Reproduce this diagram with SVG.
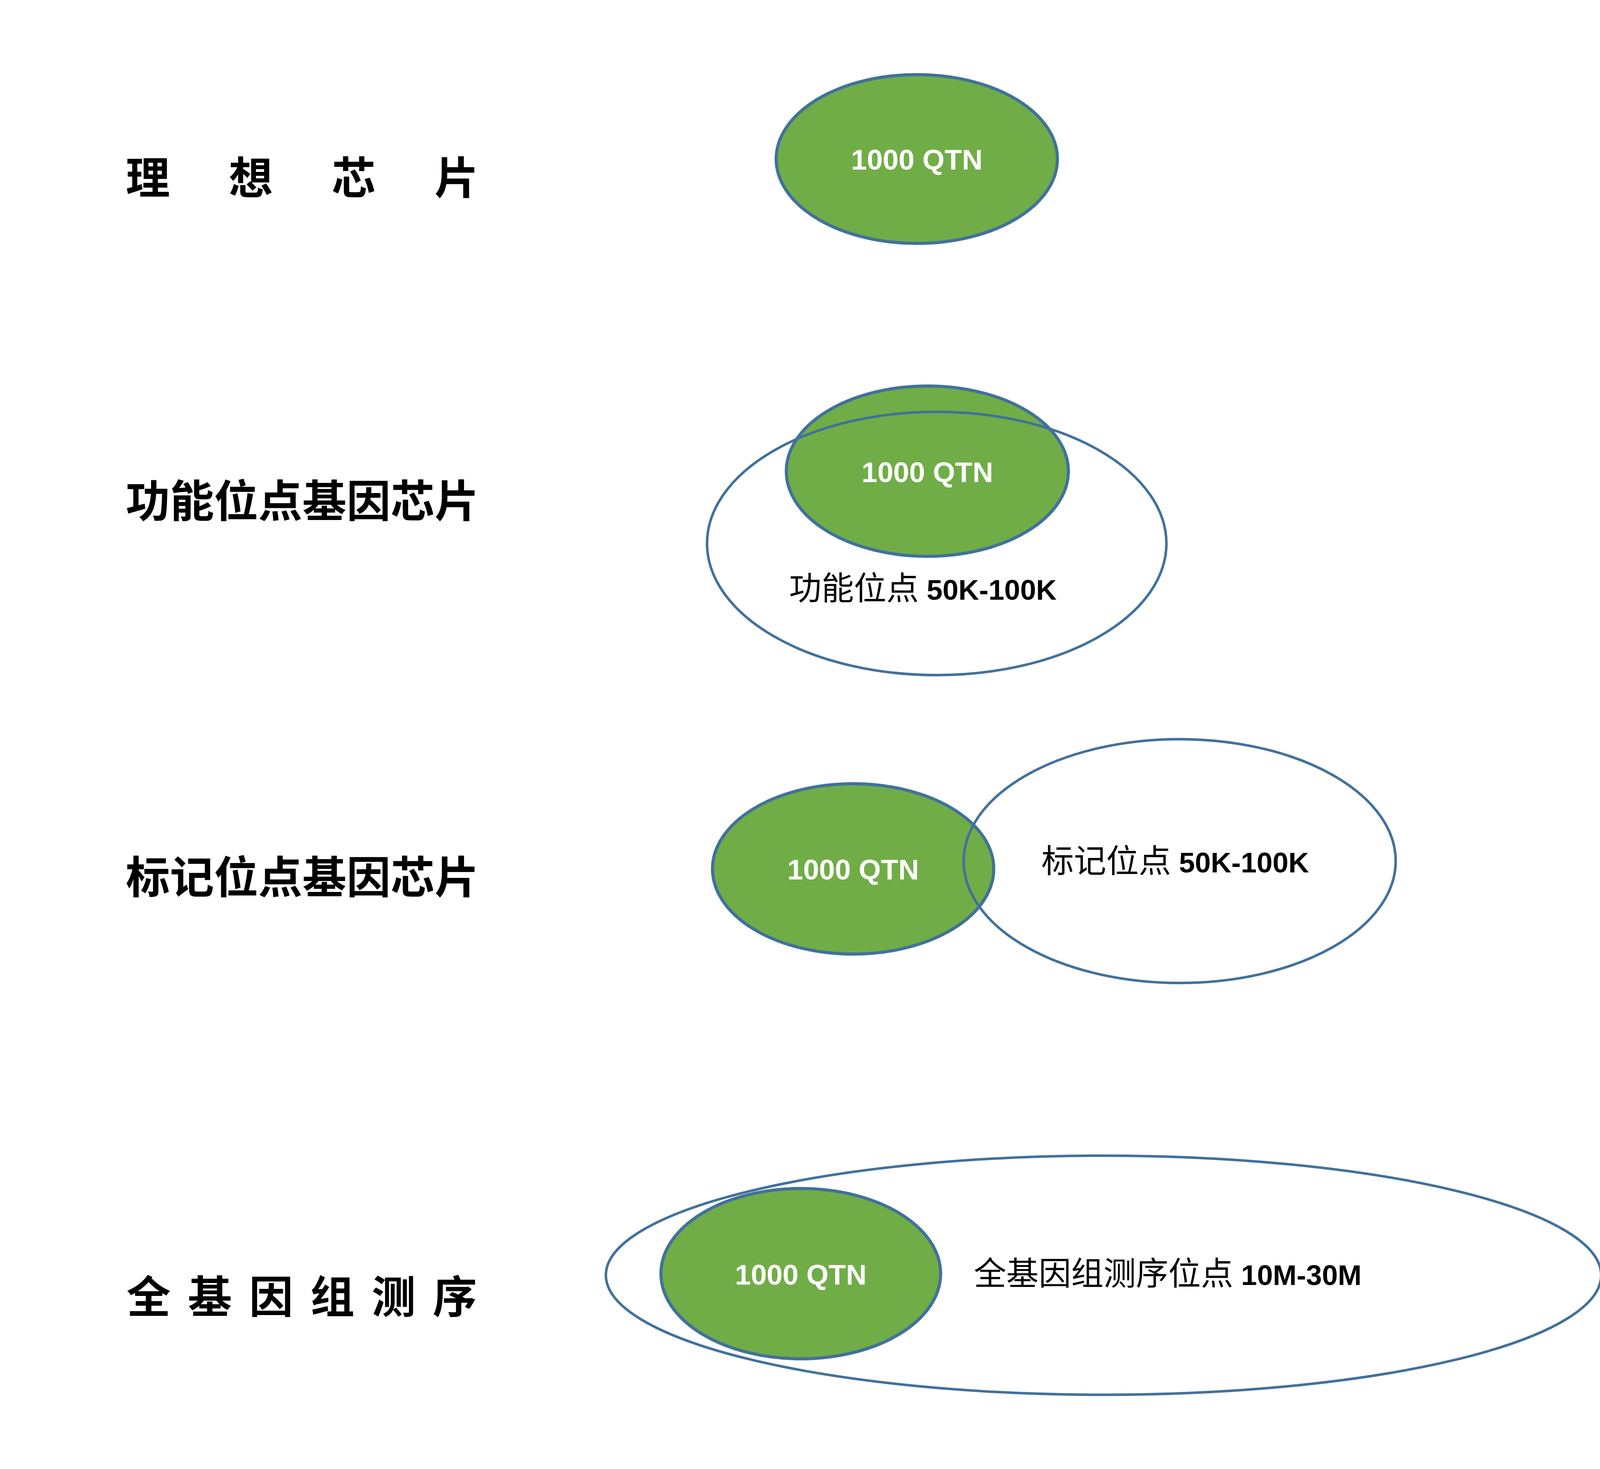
<svg xmlns="http://www.w3.org/2000/svg" width="4214" height="3760" viewBox="0 0 4214 3760">
<style>
.bg{fill:#ffffff}
.qtn{fill:#70AD47;stroke:#41719C;stroke-width:8}
.set{fill:none;stroke:#41719C;stroke-width:6.5}
.setw{fill:#ffffff;stroke:#41719C;stroke-width:6.5}
.qt{font-family:"Liberation Sans",Arial,sans-serif;font-weight:bold;font-size:73px;fill:#ffffff;text-anchor:middle}
.lab{font-family:"Noto Sans CJK SC","Noto Sans CJK TC",sans-serif;font-weight:bold;font-size:113px;fill:#000000}
.desc{font-family:"Noto Sans CJK SC","Noto Sans CJK TC",sans-serif;font-weight:normal;font-size:83px;fill:#000000}
.num{font-family:"Liberation Sans",Arial,sans-serif;font-weight:bold;font-size:73px}
</style>
<rect class="bg" x="0" y="0" width="4214" height="3760"/>

<g id="labels">
<text id="label-ideal" class="lab" x="322" y="496" letter-spacing="150.5">理想芯片</text>
<text id="label-functional" class="lab" x="322" y="1323">功能位点基因芯片</text>
<text id="label-marker" class="lab" x="322" y="2286">标记位点基因芯片</text>
<text id="label-wgs" class="lab" x="324" y="3360" letter-spacing="43.8">全基因组测序</text>
</g>

<g id="row-ideal">
<g id="ideal-qtn">
<ellipse class="qtn" cx="2347" cy="407" rx="360" ry="216"/>
<text class="qt" x="2347" y="434">1000 QTN</text>
</g>
</g>

<g id="row-functional">
<g id="functional-qtn">
<ellipse class="qtn" cx="2374" cy="1206" rx="361" ry="218"/>
<text class="qt" x="2374" y="1234">1000 QTN</text>
</g>
<g id="functional-sites">
<ellipse class="set" cx="2398" cy="1391" rx="588" ry="337"/>
<text class="desc" x="2020" y="1535">功能位点<tspan class="num"> 50K-100K</tspan></text>
</g>
</g>

<g id="row-marker">
<g id="marker-qtn">
<ellipse class="qtn" cx="2184" cy="2224" rx="360" ry="218"/>
<text class="qt" x="2184" y="2251">1000 QTN</text>
</g>
<g id="marker-sites">
<ellipse class="set" cx="3020" cy="2204" rx="553" ry="312"/>
<text class="desc" x="2666" y="2233">标记位点<tspan class="num" font-size="72"> 50K-100K</tspan></text>
</g>
</g>

<g id="row-wgs">
<g id="wgs-sites">
<ellipse class="setw" cx="2825" cy="3264" rx="1274" ry="306"/>
<text class="desc" x="2493" y="3289" font-size="84">全基因组测序位点<tspan class="num" font-size="80"> 10M-30M</tspan></text>
</g>
<g id="wgs-qtn">
<ellipse class="qtn" cx="2050" cy="3260" rx="358" ry="218"/>
<text class="qt" x="2050" y="3288">1000 QTN</text>
</g>
</g>

<g id="connectors"/>
</svg>
